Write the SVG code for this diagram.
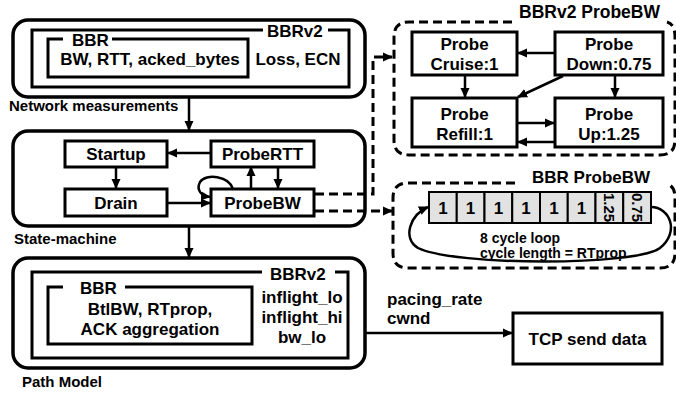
<svg xmlns="http://www.w3.org/2000/svg" width="676" height="394" viewBox="0 0 676 394">
<style>
text{font-family:"Liberation Sans",Arial,sans-serif;font-weight:bold;fill:#000}
.b{font-size:17px}
.s{font-size:15px}
.m{font-size:14px}
.r{font-size:15px;text-anchor:middle;dominant-baseline:central}
.mid{text-anchor:middle}
.outer{fill:none;stroke:#000;stroke-width:3.5}
.inner{fill:none;stroke:#000;stroke-width:3}
.node{fill:#fff;stroke:#000;stroke-width:3}
.cell{fill:#e2e2e2;stroke:#000;stroke-width:2}
.arr{fill:none;stroke:#000;stroke-width:2.5;marker-end:url(#ah)}
.dash{fill:none;stroke:#000;stroke-width:3;stroke-dasharray:9 5}
.darr{fill:none;stroke:#000;stroke-width:3;stroke-dasharray:9 5;marker-end:url(#ah)}
</style>
<defs>
<marker id="ah" markerUnits="userSpaceOnUse" markerWidth="10" markerHeight="10" refX="9" refY="5" orient="auto">
<path d="M0,0.5 L10,5 L0,9.5 Z" fill="#000"/>
</marker>
</defs>
<rect width="676" height="394" fill="#fff"/>

<g id="network-measurements">
<rect class="outer" x="13" y="20" width="352" height="77" rx="15"/>
<path class="inner" d="M263,30 H32 V87 H349 V30 H328"/>
<text class="b" x="267" y="37">BBRv2</text>
<path class="inner" d="M63,39 H48 V77 H248 V39 H112"/>
<text class="b" x="72" y="46">BBR</text>
<text class="b" x="150" y="65" text-anchor="middle">BW, RTT, acked_bytes</text>
<text class="b" x="298" y="65" text-anchor="middle">Loss, ECN</text>
<text class="s" x="9" y="111">Network measurements</text>
</g>

<g id="state-machine">
<rect class="outer" x="13" y="131" width="352" height="95" rx="15"/>
<text class="s" x="14" y="244">State-machine</text>
</g>
<g id="startup"><rect class="node" x="65" y="141" width="102" height="26"/><text class="b mid" x="116" y="160">Startup</text></g>
<g id="probertt"><rect class="node" x="211" y="141" width="103" height="26"/><text class="b mid" x="262.5" y="160">ProbeRTT</text></g>
<g id="drain"><rect class="node" x="65" y="189" width="102" height="27"/><text class="b mid" x="116" y="209">Drain</text></g>
<g id="probebw"><rect class="node" x="211" y="189" width="103" height="27"/><text class="b mid" x="262.5" y="209">ProbeBW</text></g>

<g id="path-model">
<rect class="outer" x="13" y="258" width="352" height="110" rx="15"/>
<path class="inner" d="M262,272 H32 V358 H348 V272 H335"/>
<text class="b" x="270" y="280">BBRv2</text>
<path class="inner" d="M63,287 H48 V344 H252 V287 H125"/>
<text class="b" x="80" y="294">BBR</text>
<text class="b mid" x="150" y="315">BtlBW, RTprop,</text>
<text class="b mid" x="150" y="335">ACK aggregation</text>
<text class="b mid" x="302" y="303">inflight_lo</text>
<text class="b mid" x="302" y="323">inflight_hi</text>
<text class="b mid" x="302" y="343">bw_lo</text>
<text class="s" x="22" y="387">Path Model</text>
</g>

<g id="tcp-send-data">
<rect class="node" x="513" y="313" width="149" height="51"/>
<text class="b mid" x="587.5" y="345">TCP send data</text>
</g>

<g id="bbrv2-probebw">
<path class="dash" d="M512,22 H409 Q394,22 394,37 V140 Q394,155 409,155 H660 Q675,155 675,140 V37 Q675,24 667,22"/>
<text class="b" x="519" y="18" style="font-size:17.5px">BBRv2 ProbeBW</text>
</g>
<g id="probe-cruise"><rect class="node" x="412" y="32" width="105" height="43"/><text class="b mid" x="464.5" y="50">Probe</text><text class="b mid" x="464.5" y="70">Cruise:1</text></g>
<g id="probe-down"><rect class="node" x="555" y="32" width="108" height="43"/><text class="b mid" x="609" y="50">Probe</text><text class="b mid" x="609" y="70">Down:0.75</text></g>
<g id="probe-refill"><rect class="node" x="412" y="98" width="105" height="49"/><text class="b mid" x="464.5" y="120">Probe</text><text class="b mid" x="464.5" y="140">Refill:1</text></g>
<g id="probe-up"><rect class="node" x="555" y="98" width="108" height="49"/><text class="b mid" x="609" y="120">Probe</text><text class="b mid" x="609" y="140">Up:1.25</text></g>

<g id="bbr-probebw">
<path class="dash" d="M515,183 H408 Q393,183 393,198 V253 Q393,268 408,268 H660 Q675,268 675,253 V198 Q675,186 667,184"/>
<text class="b" x="532" y="183">BBR ProbeBW</text>
<rect class="cell" x="429" y="192" width="27.75" height="31"/>
<rect class="cell" x="456.75" y="192" width="27.75" height="31"/>
<rect class="cell" x="484.5" y="192" width="27.75" height="31"/>
<rect class="cell" x="512.25" y="192" width="27.75" height="31"/>
<rect class="cell" x="540" y="192" width="27.75" height="31"/>
<rect class="cell" x="567.75" y="192" width="27.75" height="31"/>
<rect class="cell" x="595.5" y="192" width="27.75" height="31"/>
<rect class="cell" x="623.25" y="192" width="27.75" height="31"/>
<text class="b mid" x="442.9" y="214">1</text>
<text class="b mid" x="470.6" y="214">1</text>
<text class="b mid" x="498.4" y="214">1</text>
<text class="b mid" x="526.1" y="214">1</text>
<text class="b mid" x="553.9" y="214">1</text>
<text class="b mid" x="581.6" y="214">1</text>
<text class="r" transform="translate(609.4,207.5) rotate(90)">1.25</text>
<text class="r" transform="translate(637.1,207.5) rotate(90)">0.75</text>
<text class="m" x="480" y="243">8 cycle loop</text>
<text class="m" x="480" y="258">cycle length = RTprop</text>
</g>

<g id="connectors">
<path class="arr" d="M189,97 V130"/>
<path class="arr" d="M189,226 V257"/>
<path class="arr" d="M211,153 H168"/>
<path class="arr" d="M116,167 V188"/>
<path class="arr" d="M167,203 H210"/>
<path class="arr" d="M251,189 V167"/>
<path class="arr" d="M278,167 V188"/>
<path class="arr" d="M233,189 C229,176 206,173 200,182 C196,190 201,196 210,197"/>
<path class="arr" d="M365,333 H512"/>
<text class="b" x="387" y="305">pacing_rate</text>
<text class="b" x="387" y="324">cwnd</text>
<path class="darr" d="M315,194 H373 V57 H392"/>
<path class="darr" d="M315,211 H392"/>
<path class="arr" d="M555,53 H518"/>
<path class="arr" d="M465,75 V97"/>
<path class="arr" d="M563,76 L518,97"/>
<path class="arr" d="M615,75 V97"/>
<path class="arr" d="M517,123 H554"/>
<path class="arr" d="M555,142 H518"/>
<path class="arr" d="M651,207 C670,207 680,232 660,248 C636,266 455,266 418,248 C402,238 410,215 428,207"/>
</g>
</svg>
